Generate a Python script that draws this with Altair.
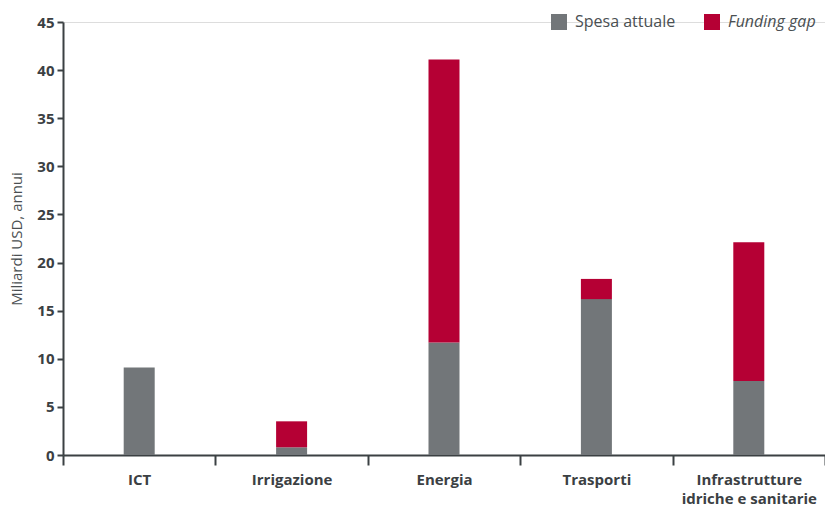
import altair as alt
import pandas as pd

# Annual infrastructure spending by sector (billion USD)
categories = ["ICT", "Irrigazione", "Energia", "Trasporti", "Infrastrutture|idriche e sanitarie"]
spesa_attuale = [9.1, 0.8, 11.7, 16.2, 7.7]
funding_gap = [0.0, 2.7, 29.4, 2.1, 14.4]
series = ["Spesa attuale", "Funding gap"]
colors = ["#727679", "#b50034"]
y_ticks = [0, 5, 10, 15, 20, 25, 30, 35, 40, 45]

rows = []
for cat, s, g in zip(categories, spesa_attuale, funding_gap):
    rows.append({"categoria": cat, "serie": series[0], "valore": s, "ordine": 0})
    if g > 0:
        rows.append({"categoria": cat, "serie": series[1], "valore": g, "ordine": 1})
df = pd.DataFrame(rows)

FONT = "Open Sans"
AXIS_COLOR = "#3b4043"
TEXT_COLOR = "#3b4043"

chart = (
    alt.Chart(df)
    .mark_bar(width=31)
    .encode(
        x=alt.X(
            "categoria:N",
            sort=categories,
            scale=alt.Scale(paddingInner=0, paddingOuter=0),
            axis=alt.Axis(
                title=None,
                labelAngle=0,
                labelExpr="split(datum.label, '|')",
                labelFont=FONT,
                labelFontSize=15,
                labelFontWeight="bold",
                labelColor=TEXT_COLOR,
                labelPadding=7,
                labelLineHeight=19,
                tickBand="extent",
                tickSize=10,
                tickWidth=2,
                tickColor=AXIS_COLOR,
                domainColor=AXIS_COLOR,
                domainWidth=2,
            ),
        ),
        y=alt.Y(
            "valore:Q",
            stack="zero",
            scale=alt.Scale(domain=[0, 45], nice=False),
            axis=alt.Axis(
                title="Miliardi USD, annui",
                titleFont=FONT,
                titleFontSize=15,
                titleFontWeight="normal",
                titleColor="#4a4f52",
                titlePadding=12,
                values=y_ticks,
                grid=False,
                labelFont=FONT,
                labelFontSize=15,
                labelFontWeight="bold",
                labelColor=TEXT_COLOR,
                labelPadding=3,
                tickSize=6,
                tickWidth=2,
                tickColor=AXIS_COLOR,
                domainColor=AXIS_COLOR,
                domainWidth=2,
            ),
        ),
        color=alt.Color(
            "serie:N",
            scale=alt.Scale(domain=series, range=colors),
            legend=alt.Legend(
                title=None,
                orient="none",
                direction="horizontal",
                legendX=488,
                legendY=-8,
                symbolType="square",
                symbolSize=256,
                symbolStrokeWidth=0,
                symbolOpacity=1,
                labelFont=FONT,
                labelFontSize=16,
                labelColor="#4a4f52",
                labelFontStyle=alt.ExprRef("datum.label == 'Funding gap' ? 'italic' : 'normal'"),
                labelOffset=8,
                columnPadding=28,
                padding=0,
            ),
        ),
        order=alt.Order("ordine:Q", sort="ascending"),
    )
    .properties(
        width=762,
        height=433,
        autosize=alt.AutoSizeParams(type="none"),
        padding={"left": 63, "top": 22, "right": 0, "bottom": 53},
    )
    .configure_view(stroke=None)
    .configure(background="white")
)

chart.save("out.html", embed_options={"renderer": "svg", "actions": False})
